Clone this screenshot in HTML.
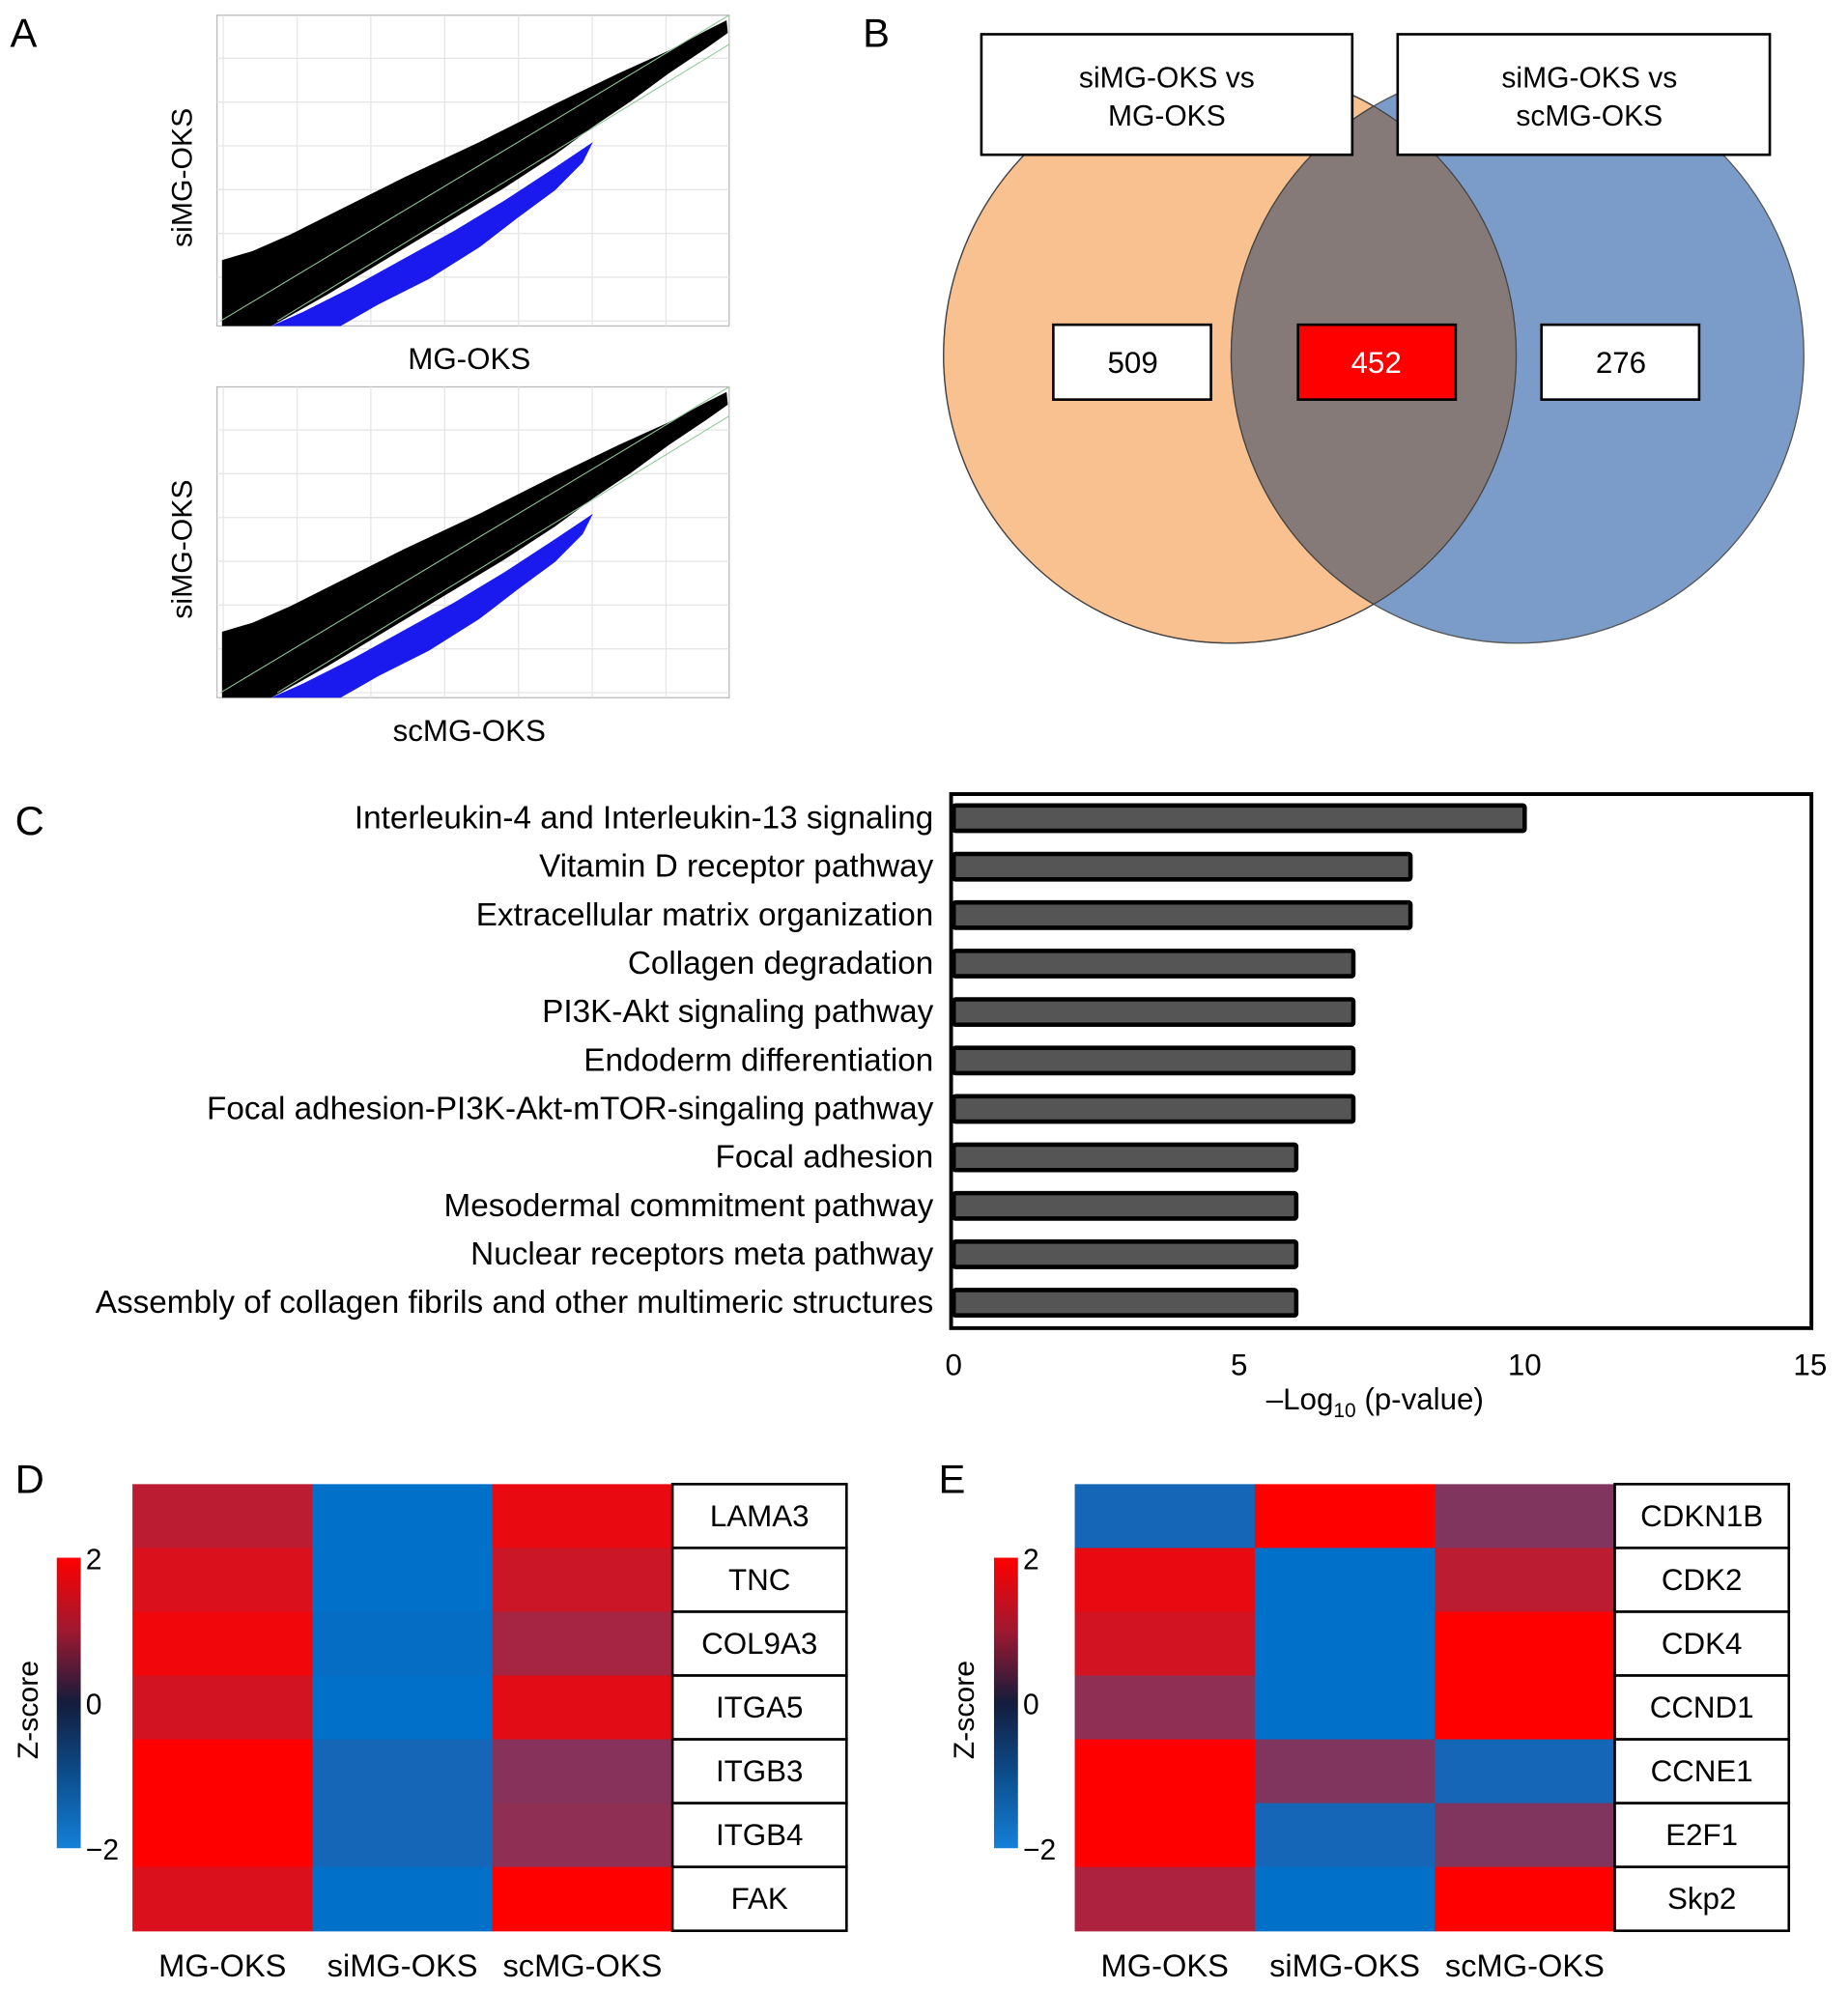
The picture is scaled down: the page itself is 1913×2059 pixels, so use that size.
<!DOCTYPE html>
<html><head><meta charset="utf-8"><style>
html,body{margin:0;padding:0;background:#fff;}
svg{display:block;font-family:"Liberation Sans",Arial,sans-serif;}
</style></head><body>
<svg id="fig" width="1913" height="2059" viewBox="0 0 1465 1568" preserveAspectRatio="none" xmlns="http://www.w3.org/2000/svg">
<defs>
<clipPath id="clipL"><circle cx="975" cy="280" r="227"/></clipPath>
<linearGradient id="zgrad" x1="0" y1="0" x2="0" y2="1">
<stop offset="0" stop-color="#ff0000"/><stop offset="0.25" stop-color="#a01830"/>
<stop offset="0.5" stop-color="#141c3c"/><stop offset="0.75" stop-color="#0c4e8e"/>
<stop offset="1" stop-color="#1480d8"/></linearGradient>
</defs>
<g id="panelA"></g>
<g id="panelB">
<text x="684" y="37" font-size="32">B</text>
<circle cx="975" cy="280" r="227" fill="#f8c18f" stroke="#555" stroke-width="1"/>
<circle cx="1203" cy="280" r="227" fill="#7b9cc8" stroke="#555" stroke-width="1"/>
<circle cx="1203" cy="280" r="227" fill="#857a77" stroke="#444" stroke-width="1" clip-path="url(#clipL)"/>
<circle cx="975" cy="280" r="227" fill="none" stroke="#444" stroke-width="1"/>
<rect x="778" y="27" width="294" height="95" fill="#fff" stroke="#000" stroke-width="2"/>
<text x="925" y="69" font-size="23" text-anchor="middle">siMG-OKS vs</text>
<text x="925" y="99" font-size="23" text-anchor="middle">MG-OKS</text>
<rect x="1108" y="27" width="295" height="95" fill="#fff" stroke="#000" stroke-width="2"/>
<text x="1260" y="69" font-size="23" text-anchor="middle">siMG-OKS vs</text>
<text x="1260" y="99" font-size="23" text-anchor="middle">scMG-OKS</text>
<rect x="835" y="256" width="125" height="59" fill="#fff" stroke="#000" stroke-width="2"/>
<text x="898" y="294" font-size="24" text-anchor="middle">509</text>
<rect x="1029" y="256" width="125" height="59" fill="#ff0000" stroke="#000" stroke-width="2"/>
<text x="1091" y="294" font-size="24" text-anchor="middle" fill="#fff">452</text>
<rect x="1222" y="256" width="125" height="59" fill="#fff" stroke="#000" stroke-width="2"/>
<text x="1285" y="294" font-size="24" text-anchor="middle">276</text>
</g>
<g id="panelC"></g>
<g id="panelD"></g>
<g id="panelE"></g>
</svg>
<script>
const NS='http://www.w3.org/2000/svg';
function mk(parent,tag,attrs,text){const e=document.createElementNS(NS,tag);for(const k in attrs)e.setAttribute(k,attrs[k]);if(text!==undefined)e.textContent=text;parent.appendChild(e);return e;}

// ---------- Panel C data ----------
const pathwayNames=["Interleukin-4 and Interleukin-13 signaling","Vitamin D receptor pathway","Extracellular matrix organization","Collagen degradation","PI3K-Akt signaling pathway","Endoderm differentiation","Focal adhesion-PI3K-Akt-mTOR-singaling pathway","Focal adhesion","Mesodermal commitment pathway","Nuclear receptors meta pathway","Assembly of collagen fibrils and other multimeric structures"];
const pathwayValues=[10,8,8,7,7,7,7,6,6,6,6];
const xTicks=[0,5,10,15];

// ---------- Heatmap data ----------
const heatCols=["MG-OKS","siMG-OKS","scMG-OKS"];
const genesD=["LAMA3","TNC","COL9A3","ITGA5","ITGB3","ITGB4","FAK"];
const zD_MG=[1.1,1.5,1.8,1.4,2,2,1.5];
const zD_si=[-2,-2,-1.9,-2,-1.6,-1.6,-2];
const zD_sc=[1.7,1.3,0.8,1.6,0.4,0.5,2];
const genesE=["CDKN1B","CDK2","CDK4","CCND1","CCNE1","E2F1","Skp2"];
const zE_MG=[-1.6,1.7,1.4,0.5,2,2,0.9];
const zE_si=[2,-2,-2,-2,0.3,-1.6,-2];
const zE_sc=[0.3,1.1,2,2,-1.6,0.3,2];
const zTicks=[2,0,-2];

// ---------- Panel A ----------
const A=document.getElementById('panelA');
let t=mk(A,'text',{x:8,y:37,'font-size':32},'A');


function scatter(oy,xl,name){
  const g=mk(A,'g',{});
  
  
  mk(g,'rect',{x:172,y:12+oy,width:406,height:245,fill:'#fff',stroke:'#bbb','stroke-width':1});
  for(let i=0;i<7;i++){mk(g,'line',{x1:177+i*58.5,y1:12+oy,x2:177+i*58.5,y2:257+oy,stroke:'#e6e6e6'});}
  for(let i=0;i<7;i++){mk(g,'line',{x1:172,y1:253-i*34.5+oy,x2:578,y2:253-i*34.5+oy,stroke:'#e6e6e6'});}
  const P=(pts)=>pts.map((p,i)=>(i?'L':'M')+p[0]+' '+(p[1]+oy)).join(' ')+'Z';
  mk(g,'path',{d:P([[176,257],[176,205],[200,198],[230,185],[270,165],[320,140],[380,112],[440,82],[490,58],[530,40],[560,24],[576,16],[577,26],[560,38],[530,58],[500,80],[470,100],[440,122],[400,148],[350,178],[300,208],[260,232],[228,250],[215,257]]),fill:'#000'});
  mk(g,'path',{d:P([[215,257],[240,246],[280,226],[320,204],[360,182],[400,158],[440,132],[470,112],[462,128],[440,150],[410,172],[380,195],[340,220],[300,240],[270,257]]),fill:'#1a1aee'});
  mk(g,'line',{x1:175,y1:253+oy,x2:578,y2:12+oy,stroke:'#8fc79a','stroke-width':0.8});
  mk(g,'line',{x1:220,y1:253+oy,x2:578,y2:35+oy,stroke:'#8fc79a','stroke-width':0.8});
  let yl=mk(g,'text',{x:0,y:0,'font-size':23,'text-anchor':'middle',transform:`translate(152 ${140+oy}) rotate(-90)`},'siMG-OKS');
  
  
  let xt=mk(g,'text',{x:372,y:291+oy,'font-size':24,'text-anchor':'middle'},xl);
  
  
}
scatter(0,'MG-OKS','scatter-top');
scatter(293,'scMG-OKS','scatter-bottom');

// ---------- Panel C ----------
const C=document.getElementById('panelC');
t=mk(C,'text',{x:12,y:658,'font-size':32},'C');


const cx0=756,cx1=1435,cMax=15;
function xs(v){return cx0+(v/cMax)*(cx1-cx0);}
const rowY0=645,rowStep=38.2,barH=20;
let frame=mk(C,'rect',{x:754,y:626,width:682,height:421,fill:'#fff',stroke:'#000','stroke-width':3});


pathwayNames.forEach((n,i)=>{
  const y=rowY0+i*rowStep;
  const b=mk(C,'rect',{x:xs(0),y:y-barH/2,width:xs(pathwayValues[i])-xs(0),height:barH,fill:'#555',stroke:'#000','stroke-width':3.5,rx:1.5});
  
  
  const l=mk(C,'text',{x:740,y:y+8,'font-size':25.5,'text-anchor':'end'},n);
  
  
});
xTicks.forEach(v=>{
  const tl=mk(C,'text',{x:xs(v),y:1084,'font-size':24,'text-anchor':'middle'},String(v));
  
  
});
const xtitle=mk(C,'text',{x:1090,y:1111,'font-size':24,'text-anchor':'middle'});


mk(xtitle,'tspan',{},'\u2013Log');
mk(xtitle,'tspan',{'font-size':16,dy:6},'10');
mk(xtitle,'tspan',{dy:-6},' (p-value)');

// ---------- Heatmaps ----------
function zColor(z){
  z=Math.max(-2,Math.min(2,z));
  const lo=[0,112,200],mid=[105,62,112],hi=[255,0,0];
  let a,b,f;
  if(z<0){a=lo;b=mid;f=(z+2)/2;}else{a=mid;b=hi;f=z/2;}
  return 'rgb('+a.map((c,i)=>Math.round(c+(b[i]-c)*f)).join(',')+')';
}
function heatmap(gid,label,lx,x0,genes,cols,cbx,zx){
  const G=document.getElementById(gid);
  let pl=mk(G,'text',{x:lx,y:1177,'font-size':32},label);
  
  
  const cw=142.7,rh=50.3,y0=1170;
  cols.forEach((vals,c)=>{
    vals.forEach((z,r)=>{
      const cell=mk(G,'rect',{x:x0+c*cw,y:y0+r*rh,width:cw+0.5,height:rh+0.5,fill:zColor(z)});
      
      
    });
    const cl=mk(G,'text',{x:x0+c*cw+cw/2,y:1558,'font-size':25,'text-anchor':'middle'},heatCols[c]);
    
    
  });
  const bx=x0+3*cw;
  genes.forEach((g,r)=>{
    const box=mk(G,'rect',{x:bx,y:y0+r*rh,width:138,height:rh,fill:'#fff',stroke:'#000','stroke-width':2});
    
    
    const gt=mk(G,'text',{x:bx+69,y:y0+r*rh+rh/2+8,'font-size':24,'text-anchor':'middle'},g);
    
    
  });
  const cb=mk(G,'rect',{x:cbx,y:1228,width:19,height:229,fill:'url(#zgrad)'});
  
  
  zTicks.forEach(v=>{
    const y=1228+(2-v)/4*229;
    const zt=mk(G,'text',{x:cbx+23,y:y+9,'font-size':23},v<0?'\u2212'+Math.abs(v):String(v));
    
    
  });
  const zl=mk(G,'text',{x:0,y:0,'font-size':23,'text-anchor':'middle',transform:`translate(${zx} 1348) rotate(-90)`},'Z-score');
  
  
}
heatmap('panelD','D',12,105,genesD,[zD_MG,zD_si,zD_sc],45,30);
heatmap('panelE','E',744,852,genesE,[zE_MG,zE_si,zE_sc],788,772);
</script>
</body></html>
